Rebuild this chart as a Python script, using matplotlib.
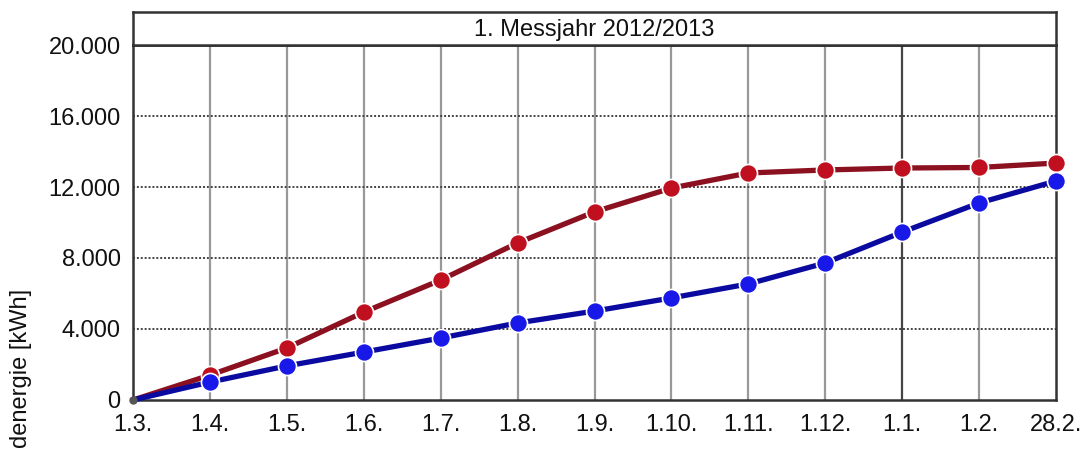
import numpy as np
import matplotlib.pyplot as plt

plt.rcParams['font.family'] = ['Liberation Sans', 'DejaVu Sans']

dates = ['1.3.', '1.4.', '1.5.', '1.6.', '1.7.', '1.8.', '1.9.', '1.10.',
         '1.11.', '1.12.', '1.1.', '1.2.', '28.2.']
red_vals = [0, 1400, 2930, 4950, 6760, 8850, 10600, 11940, 12790, 12960,
            13070, 13100, 13350]
blue_vals = [0, 1010, 1920, 2700, 3490, 4340, 5010, 5750, 6540, 7720,
             9460, 11100, 12340]
yticks = [0, 4000, 8000, 12000, 16000, 20000]
ytick_labels = ['0', '4.000', '8.000', '12.000', '16.000', '20.000']
title = '1. Messjahr 2012/2013'
ylabel = 'denergie [kWh]'

fig = plt.figure(figsize=(10.85, 4.51), dpi=100)
ax = fig.add_axes([0.1226, 0.1131, 0.8507, 0.7871])
tax = fig.add_axes([0.1226, 0.9002, 0.8507, 0.0732])

x = np.arange(len(dates))
edge = '#333333'

ax.set_xlim(0, len(dates) - 1)
ax.set_ylim(0, 20000)
ax.set_xticks(x)
ax.set_xticklabels(dates)
ax.set_yticks(yticks)
ax.set_yticklabels(ytick_labels)
ax.tick_params(length=0, labelsize=17, colors='#111111')
ax.tick_params(axis='x', pad=10)
ax.tick_params(axis='y', pad=9)

# grid
for xi in x[1:-1]:
    c = '#444444' if dates[xi] == '1.1.' else '#999999'
    ax.axvline(xi, color=c, lw=1.6, zorder=1)
for yv in yticks[1:-1]:
    ax.axhline(yv, color='#444444', lw=1.4, ls=(0, (1, 1)), zorder=1)

ax.plot(x, red_vals, color='#8b1020', lw=3.8, zorder=3, clip_on=False)
ax.plot(x[1:], red_vals[1:], ls='none', marker='o', ms=13,
        mfc='#c01020', mec='white', mew=1.2, zorder=4, clip_on=False)
ax.plot(x, blue_vals, color='#0a0aa0', lw=3.8, zorder=3, clip_on=False)
ax.plot(x[1:], blue_vals[1:], ls='none', marker='o', ms=13,
        mfc='#1818e8', mec='white', mew=1.2, zorder=4, clip_on=False)
ax.plot([0], [0], ls='none', marker='o', ms=5, color='#555555',
        zorder=5, clip_on=False)

for s in ax.spines.values():
    s.set_color(edge)
    s.set_linewidth(1.8)
ax.spines['top'].set_color('#111111')

tax.set_xticks([])
tax.set_yticks([])
for s in tax.spines.values():
    s.set_color(edge)
    s.set_linewidth(1.8)
tax.text(0.5, 0.45, title, ha='center', va='center', fontsize=17,
         color='#111111', transform=tax.transAxes)

fig.text(0.019, 3 / 451, ylabel, rotation=90, ha='center', va='bottom',
         fontsize=17, color='#111111')

fig.savefig('out.png', dpi=100)
